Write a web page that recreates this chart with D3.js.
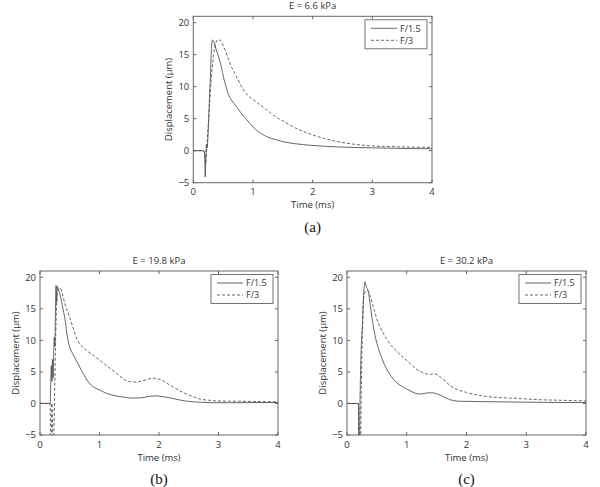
<!DOCTYPE html>
<html><head><meta charset="utf-8">
<script src="https://cdn.jsdelivr.net/npm/d3@7"></script>
<style>
body{margin:0;background:#fff;}
text{font-family:"Open Sans",sans-serif;fill:#333;}
</style></head>
<body><svg id="c" width="600" height="487"></svg>
<script>
const xTicks=[0,1,2,3,4];
const yTicks=[-5,0,5,10,15,20];
const seriesNames=["F/1.5","F/3"];
const titles=["E = 6.6 kPa","E = 19.8 kPa","E = 30.2 kPa"];
const panelLabels=["(a)","(b)","(c)"];

// Panel (a) E = 6.6 kPa  [time ms, displacement um]
const a_F15=[[0,0],[0.17,0],[0.19,-0.5],[0.2,-4.1],[0.21,-1],[0.22,1],[0.23,0.4],[0.25,3],[0.27,8],[0.29,12.5],[0.305,16],[0.32,17.3],[0.34,17.1],[0.37,16.2],[0.39,15.6],[0.43,14.5],[0.47,13.1],[0.51,11.3],[0.55,10],[0.58,9],[0.62,8.2],[0.68,7.4],[0.73,6.8],[0.8,5.9],[0.9,4.8],[1.0,3.7],[1.06,3.2],[1.15,2.6],[1.23,2.2],[1.35,1.8],[1.51,1.4],[1.7,1.1],[1.96,0.85],[2.2,0.7],[2.4,0.6],[2.7,0.5],[3.0,0.45],[3.5,0.35],[4,0.3]];
const a_F3=[[0,0],[0.18,0],[0.2,-1.5],[0.21,-2],[0.22,-0.5],[0.25,4],[0.3,11],[0.34,15],[0.38,16.9],[0.42,17.4],[0.46,17.1],[0.53,15.8],[0.6,14],[0.64,13.1],[0.7,12],[0.75,11.1],[0.82,9.8],[0.89,8.9],[1.0,8.0],[1.1,7.3],[1.23,6.4],[1.35,5.5],[1.51,4.6],[1.7,3.6],[1.96,2.6],[2.2,1.9],[2.4,1.45],[2.7,1.0],[3.0,0.75],[3.5,0.6],[4,0.5]];

// Panel (b) E = 19.8 kPa
const b_F15=[[0,0],[0.17,0],[0.18,3],[0.19,6],[0.2,3.5],[0.21,7],[0.22,4],[0.23,8],[0.24,10.5],[0.25,9],[0.26,15],[0.27,18.7],[0.28,16],[0.29,18.6],[0.3,18.3],[0.33,17.5],[0.36,16.3],[0.39,14.8],[0.42,13.4],[0.45,11.2],[0.5,8.9],[0.55,7.9],[0.59,7.2],[0.65,6.1],[0.7,5.2],[0.77,4.0],[0.84,3.1],[0.92,2.5],[1.01,2.1],[1.12,1.6],[1.23,1.3],[1.4,1.0],[1.55,0.85],[1.7,0.9],[1.85,1.15],[1.95,1.2],[2.05,1.1],[2.2,0.85],[2.35,0.55],[2.52,0.3],[2.7,0.2],[2.91,0.12],[3.3,0.12],[3.7,0.15],[4,0.15]];
const b_F3=[[0,0],[0.17,0],[0.18,-7],[0.19,-7],[0.2,0],[0.21,-3],[0.22,-7],[0.23,-6],[0.25,4],[0.27,13],[0.29,17.5],[0.32,18.2],[0.34,18.3],[0.37,17.6],[0.42,15.7],[0.46,14.6],[0.5,13.6],[0.55,12.2],[0.59,11],[0.63,10.1],[0.67,9.4],[0.72,8.9],[0.78,8.4],[0.9,7.6],[1.01,6.8],[1.12,6.0],[1.23,5.2],[1.32,4.5],[1.4,3.9],[1.5,3.45],[1.6,3.4],[1.7,3.55],[1.8,3.8],[1.9,4.0],[1.98,3.9],[2.07,3.6],[2.15,3.1],[2.24,2.6],[2.35,2.0],[2.46,1.5],[2.58,1.05],[2.69,0.7],[2.85,0.5],[2.97,0.4],[3.3,0.35],[3.7,0.3],[4,0.25]];

// Panel (c) E = 30.2 kPa
const c_F15=[[0,0],[0.19,0],[0.195,-7],[0.21,-7],[0.215,-2],[0.23,6],[0.26,13],[0.28,17.5],[0.3,19.3],[0.32,18.6],[0.34,18.2],[0.36,17.6],[0.39,15.5],[0.44,12.3],[0.48,10.3],[0.52,8.9],[0.59,7.0],[0.66,5.5],[0.74,4.3],[0.83,3.3],[0.94,2.6],[1.06,2.0],[1.15,1.6],[1.22,1.5],[1.3,1.6],[1.38,1.7],[1.46,1.65],[1.54,1.4],[1.61,1.1],[1.7,0.7],[1.78,0.45],[1.9,0.35],[2.2,0.3],[2.6,0.25],[3.0,0.2],[3.5,0.15],[4,0.15]];
const c_F3=[[0,0],[0.19,0],[0.2,-2],[0.21,-7],[0.225,-7],[0.24,3],[0.26,12],[0.28,16.8],[0.3,17.6],[0.33,17.9],[0.36,17.8],[0.39,17.0],[0.44,15.3],[0.5,13.4],[0.57,11.8],[0.66,10.3],[0.74,9.2],[0.83,8.3],[0.94,7.3],[1.06,6.3],[1.14,5.6],[1.22,5.1],[1.3,4.75],[1.38,4.6],[1.45,4.7],[1.5,4.6],[1.56,4.2],[1.64,3.6],[1.73,2.8],[1.85,2.2],[2.0,1.75],[2.17,1.35],[2.34,1.1],[2.6,0.9],[2.84,0.8],[3.2,0.6],[3.6,0.5],[4,0.4]];

const panels=[
  {x0:193.3,x1:432,yTop:16.3,yBot:182.7,data:[a_F15,a_F3]},
  {x0:40,x1:278,yTop:271,yBot:435,data:[b_F15,b_F3]},
  {x0:347,x1:586,yTop:271,yBot:435,data:[c_F15,c_F3]}
];

const svg=d3.select("#c");
const lineCol="#4a4a4a", frameCol="#666";
const fs=9.5;

panels.forEach((p,i)=>{
  const x=d3.scaleLinear().domain([0,4]).range([p.x0,p.x1]);
  const y=d3.scaleLinear().domain([-5,21]).range([p.yBot,p.yTop]);
  const g=svg.append("g");
  const cid="clip"+i;
  svg.append("clipPath").attr("id",cid).append("rect")
    .attr("x",p.x0).attr("y",p.yTop).attr("width",p.x1-p.x0).attr("height",p.yBot-p.yTop);

  const tl=3;
  xTicks.forEach(t=>{
    g.append("line").attr("x1",x(t)).attr("x2",x(t)).attr("y1",p.yBot).attr("y2",p.yBot-tl).attr("stroke",frameCol);
    g.append("line").attr("x1",x(t)).attr("x2",x(t)).attr("y1",p.yTop).attr("y2",p.yTop+tl).attr("stroke",frameCol);
    g.append("text").attr("x",x(t)).attr("y",p.yBot+12.5).attr("text-anchor","middle").attr("font-size",fs).text(t);
  });
  yTicks.forEach(t=>{
    g.append("line").attr("x1",p.x0).attr("x2",p.x0+tl).attr("y1",y(t)).attr("y2",y(t)).attr("stroke",frameCol);
    g.append("line").attr("x1",p.x1).attr("x2",p.x1-tl).attr("y1",y(t)).attr("y2",y(t)).attr("stroke",frameCol);
    g.append("text").attr("x",p.x0-4).attr("y",y(t)+3.3).attr("text-anchor","end").attr("font-size",fs)
      .text(t<0?"\u2212"+Math.abs(t):t);
  });

  const line=d3.line().x(d=>x(d[0])).y(d=>y(d[1])).curve(d3.curveMonotoneX);
  const lg=g.append("g").attr("clip-path","url(#"+cid+")");
  lg.append("path").datum(p.data[1]).attr("d",line).attr("fill","none").attr("stroke",lineCol).attr("stroke-width",0.85).attr("stroke-dasharray","3,2");
  lg.append("path").datum(p.data[0]).attr("d",line).attr("fill","none").attr("stroke",lineCol).attr("stroke-width",0.85);

  g.append("rect").attr("x",p.x0).attr("y",p.yTop).attr("width",p.x1-p.x0).attr("height",p.yBot-p.yTop)
    .attr("fill","none").attr("stroke",frameCol).attr("stroke-width",1);

  // legend
  const lx1=p.x1-5, lx0=lx1-62, ly0=p.yTop+3.5, lh=29;
  g.append("rect").attr("x",lx0).attr("y",ly0).attr("width",lx1-lx0).attr("height",lh)
    .attr("fill","#fff").attr("stroke",frameCol).attr("stroke-width",0.9);
  seriesNames.forEach((n,k)=>{
    const yy=ly0+8.5+k*12;
    g.append("line").attr("x1",lx0+6).attr("x2",lx0+32).attr("y1",yy).attr("y2",yy)
      .attr("stroke",lineCol).attr("stroke-width",0.85).attr("stroke-dasharray",k?"3,2":null);
    g.append("text").attr("x",lx0+35).attr("y",yy+3.2).attr("font-size",9).text(n);
  });

  const cx=(p.x0+p.x1)/2;
  g.append("text").attr("x",cx).attr("y",p.yTop-7).attr("text-anchor","middle").attr("font-size",fs).text(titles[i]);
  g.append("text").attr("x",cx).attr("y",p.yBot+25.5).attr("text-anchor","middle").attr("font-size",fs).text("Time (ms)");
  g.append("text").attr("transform","translate("+(p.x0-21)+","+((p.yTop+p.yBot)/2)+") rotate(-90)")
    .attr("text-anchor","middle").attr("font-size",fs).text("Displacement (\u03bcm)");
  g.append("text").attr("x",cx).attr("y",p.yBot+49).attr("text-anchor","middle")
    .style("font-family","'Liberation Serif',serif").attr("font-size",15).style("fill","#111").text(panelLabels[i]);
});
</script></body></html>
